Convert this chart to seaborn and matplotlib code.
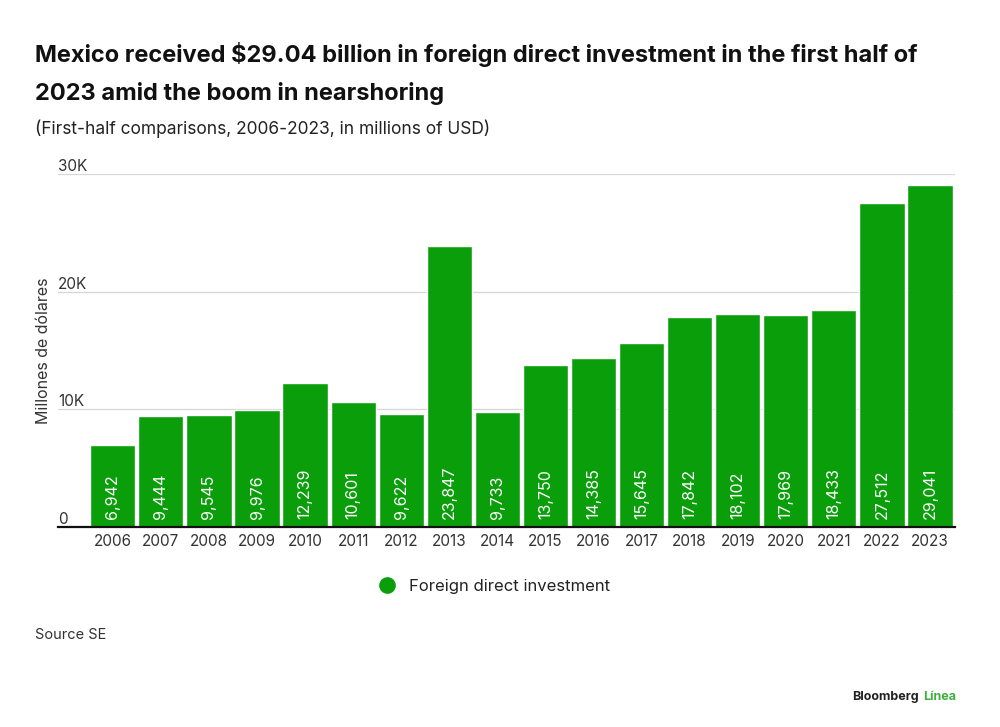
import matplotlib
matplotlib.use("Agg")
import matplotlib.pyplot as plt
import pandas as pd
import seaborn as sns

years = [str(y) for y in range(2006, 2024)]
fdi = [6942, 9444, 9545, 9976, 12239, 10601, 9622, 23847, 9733, 13750,
       14385, 15645, 17842, 18102, 17969, 18433, 27512, 29041]
yticks = [0, 10000, 20000, 30000]
ytick_labels = ["0", "10K", "20K", "30K"]

GREEN = "#0a9f0a"

sns.set_theme(style="white")
plt.rcParams["font.family"] = ["Inter", "DejaVu Sans"]

df = pd.DataFrame({"year": years, "fdi": fdi})

fig = plt.figure(figsize=(10, 7.27), dpi=100)
ax = fig.add_axes([0.058, 0.275, 0.897, 0.486])

sns.barplot(data=df, x="year", y="fdi", color=GREEN, saturation=1,
            width=0.94, ax=ax)

ax.set_xlim(-1.14, 17.52)
ax.set_ylim(0, 30000)
ax.set_yticks(yticks)
ax.set_yticklabels(ytick_labels)
ax.tick_params(axis="y", length=0, pad=0, labelsize=11, labelcolor="#333333")
for lab in ax.get_yticklabels():
    lab.set_ha("left")
    lab.set_va("bottom")
ax.tick_params(axis="x", length=0, pad=5, labelsize=11, labelcolor="#333333")
ax.grid(axis="y", color="#d6d6d6", linewidth=0.9)
ax.set_axisbelow(True)
for s in ["top", "right", "left"]:
    ax.spines[s].set_visible(False)
ax.spines["bottom"].set_color("#111111")
ax.spines["bottom"].set_linewidth(1.6)
ax.set_xlabel("")
ax.set_ylabel("Millones de dólares", fontsize=11.5, color="#333333")
ax.yaxis.set_label_coords(-0.008, 0.5)

for i, v in enumerate(fdi):
    ax.annotate(f"{v:,}", (i, 0), xytext=(0, 6), textcoords="offset points",
                rotation=90, ha="center", va="bottom", color="white",
                fontsize=11.5)

fig.text(0.035, 0.925, "Mexico received $29.04 billion in foreign direct investment in the first half of",
         fontsize=17, fontweight="bold", color="#111111", va="center")
fig.text(0.035, 0.872, "2023 amid the boom in nearshoring",
         fontsize=17, fontweight="bold", color="#111111", va="center")
fig.text(0.035, 0.823, "(First-half comparisons, 2006-2023, in millions of USD)",
         fontsize=12.5, color="#222222", va="center")

# legend
fig.legend(handles=[plt.Line2D([], [], marker="o", linestyle="", markersize=11,
                               color=GREEN, label="Foreign direct investment")],
           loc="center", bbox_to_anchor=(0.49, 0.193), frameon=False,
           fontsize=12, handletextpad=0.3, labelcolor="#222222")

fig.text(0.035, 0.127, "Source SE", fontsize=10.5, color="#333333", va="center")
fig.text(0.919, 0.041, "Bloomberg", fontsize=9, fontweight="bold",
         color="#222222", va="center", ha="right")
fig.text(0.923, 0.041, "Línea", fontsize=9, fontweight="bold",
         color="#3fae3f", va="center", ha="left")

fig.savefig("out.png", dpi=100, facecolor="white")
